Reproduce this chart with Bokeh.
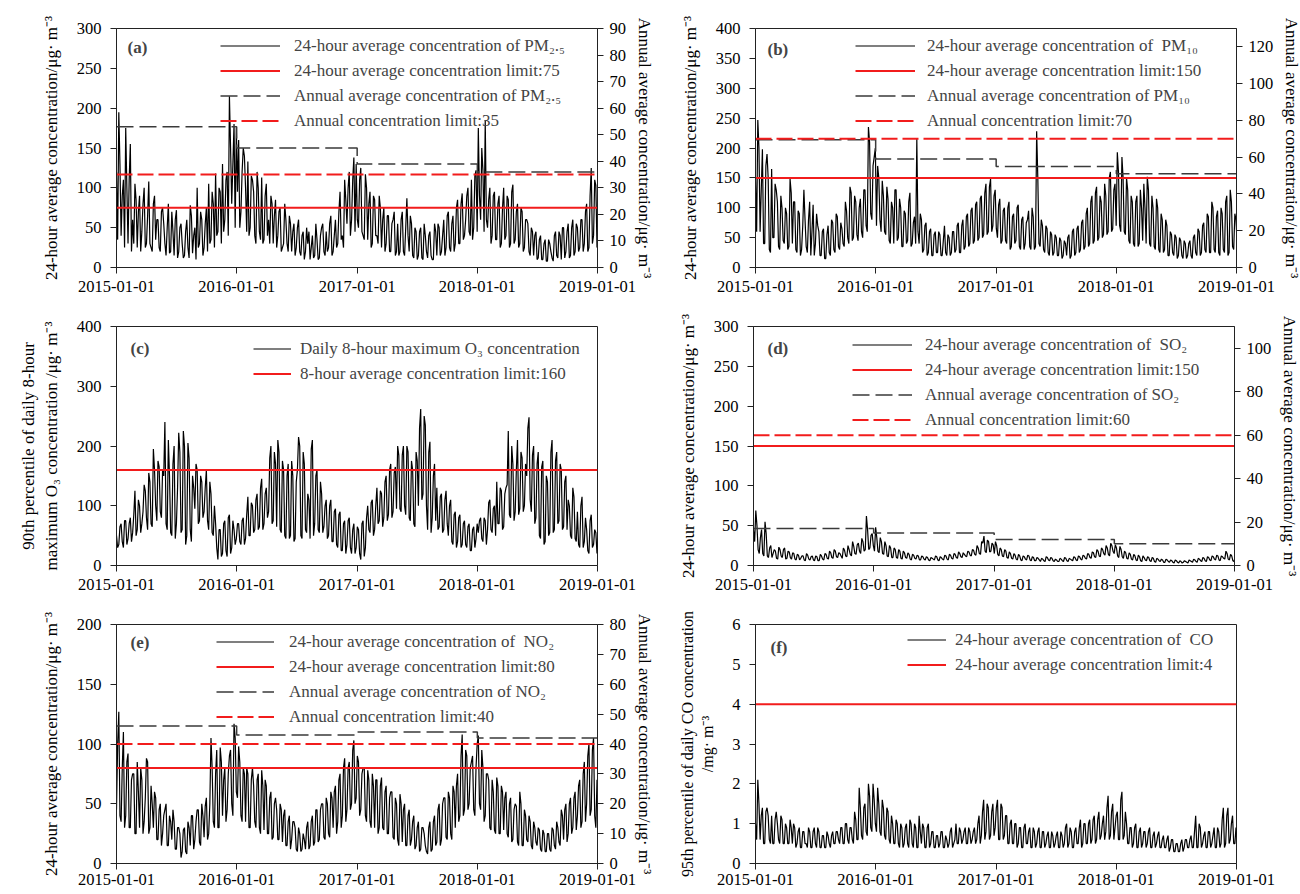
import pandas as pd
from datetime import datetime
from bokeh.plotting import figure
from bokeh.models import (Range1d, LinearAxis, FixedTicker, DatetimeTickFormatter,
                          Legend, LegendItem, Label, ColumnDataSource)
from bokeh.layouts import column, row
from bokeh.embed import file_html
from bokeh.resources import INLINE

FONT = "Liberation Serif"

# ---------------- data (readings estimated from the figure, twice a week) ----------------
dates = pd.date_range("2015-01-01", periods=210, freq="7D")
dates_mid = pd.date_range("2015-01-04 12:00", periods=210, freq="7D")
year_starts = [datetime(2015, 1, 1), datetime(2016, 1, 1), datetime(2017, 1, 1),
               datetime(2018, 1, 1), datetime(2019, 1, 1)]
x_tick_labels = ["2015-01-01", "2016-01-01", "2017-01-01", "2018-01-01", "2019-01-01"]

pm25 = [
    120, 195, 40, 110, 175, 30, 155, 60, 105, 25, 90, 45, 100, 30, 108, 25, 80, 35, 60, 20,
    75, 30, 50, 18, 70, 15, 72, 20, 55, 12, 45, 25, 78, 18, 50, 100, 30, 60, 25, 75,
    105, 35, 80, 118, 45, 95, 130, 60, 120, 215, 80, 180, 175,
    160, 70, 150, 100, 133, 50, 110, 40, 120, 45, 113, 35, 105, 60, 90, 30, 85, 40, 75, 25, 80,
    30, 65, 20, 55, 25, 60, 15, 45, 20, 30, 10, 40, 15, 35, 12, 50, 20, 45, 25, 65, 20, 60,
    30, 95, 40, 110, 55, 120, 60, 138, 130,
    50, 125, 40, 117, 35, 95, 30, 85, 40, 90, 25, 75, 30, 65, 20, 60, 15, 55, 20, 70, 15,
    87, 20, 55, 12, 45, 15, 50, 10, 40, 12, 45, 10, 55, 15, 50, 20, 60, 25, 70, 20, 65, 30,
    85, 30, 93, 40, 90, 45, 110, 50, 122,
    175, 60, 122, 185, 50, 100, 40, 95, 35, 90, 30, 100, 40, 85, 30, 104, 35, 80, 30, 70, 25,
    60, 20, 50, 15, 45, 12, 40, 10, 35, 8, 30, 12, 40, 15, 45, 10, 50, 20, 55, 15, 60, 20,
    50, 25, 60, 30, 80, 25, 125, 40, 103, 45,
]
pm25_mid = [
    35, 130, 90, 25, 100, 110, 20, 30, 85, 70, 20, 80, 25, 65, 30, 20, 90, 60, 25, 70, 55, 15,
    80, 20, 45, 60, 12, 50, 30, 15, 60, 12, 65, 40, 10, 25, 70, 15, 55, 20, 30, 95, 25, 40,
    100, 30, 45, 110, 40, 150, 130, 50, 95,
    50, 120, 140, 45, 40, 115, 95, 30, 100, 35, 30, 90, 40, 30, 80, 65, 25, 70, 20, 30, 60,
    20, 55, 45, 15, 50, 20, 40, 10, 50, 45, 25, 12, 55, 10, 40, 55, 15, 20, 55, 15, 40, 25,
    70, 35, 25, 85, 100, 40, 110, 45, 60,
    110, 45, 35, 100, 80, 25, 90, 40, 30, 75, 60, 20, 65, 20, 55, 70, 20, 15, 60, 20, 50,
    40, 65, 15, 50, 10, 45, 12, 55, 20, 40, 15, 10, 45, 55, 15, 40, 15, 65, 25, 55, 20, 75,
    30, 80, 35, 60, 100, 40, 35, 115, 45,
    90, 150, 45, 60, 85, 30, 90, 35, 80, 25, 75, 35, 90, 25, 95, 30, 70, 25, 75, 20, 60,
    55, 15, 45, 40, 10, 35, 10, 30, 8, 35, 20, 8, 45, 12, 40, 50, 12, 45, 12, 50, 15, 55,
    20, 60, 20, 70, 20, 90, 30, 110, 25, 60,
]
pm25_annual = [53, 45, 39, 36]

pm10 = [
    150, 247, 60, 198, 40, 190, 30, 165, 50, 130, 35, 120, 45, 100, 30, 148, 40, 110, 25, 90, 30,
    130, 35, 80, 20, 105, 40, 70, 20, 60, 15, 55, 25, 80, 30, 90, 35, 75, 40, 110, 50, 135, 45,
    120, 55, 100, 60, 130, 70, 235, 90, 170, 200,
    170, 80, 145, 60, 135, 45, 110, 40, 130, 50, 100, 35, 90, 45, 125, 40, 85, 215, 40, 80, 30,
    75, 25, 65, 20, 60, 25, 55, 20, 70, 20, 50, 25, 60, 30, 75, 25, 80, 35, 90, 40, 100, 45,
    110, 50, 120, 55, 140, 60, 148, 70, 130,
    50, 115, 45, 100, 40, 110, 35, 90, 45, 105, 30, 85, 40, 80, 35, 100, 30, 228, 40, 80, 30,
    70, 25, 60, 20, 55, 20, 50, 15, 45, 20, 55, 20, 65, 25, 70, 30, 80, 35, 100, 40, 120, 45,
    135, 50, 110, 55, 120, 60, 160, 65, 140,
    193, 70, 185, 60, 150, 45, 120, 40, 110, 35, 130, 45, 100, 152, 40, 120, 35, 115, 30, 90, 25,
    80, 20, 60, 25, 55, 15, 50, 20, 45, 15, 40, 20, 50, 25, 65, 20, 70, 30, 90, 25, 110, 30,
    85, 25, 100, 30, 110, 20, 130, 35, 90, 40,
]
pm10_mid = [
    60, 200, 130, 40, 170, 150, 25, 50, 140, 110, 30, 100, 40, 90, 35, 125, 110, 30, 95, 20, 70,
    80, 25, 110, 60, 20, 90, 60, 20, 65, 15, 70, 20, 75, 25, 85, 30, 65, 35, 95, 40, 125, 50,
    110, 45, 115, 50, 130, 60, 210, 80, 185, 70,
    150, 60, 120, 55, 115, 40, 100, 130, 45, 115, 35, 95, 40, 110, 35, 75, 40, 60, 90, 25, 70,
    20, 60, 20, 55, 25, 60, 20, 45, 25, 55, 20, 60, 25, 70, 25, 70, 30, 85, 35, 95, 40, 105,
    45, 115, 50, 125, 55, 135, 60, 120, 65,
    105, 40, 95, 45, 100, 30, 85, 40, 100, 35, 80, 30, 75, 95, 30, 85, 35, 150, 35, 70, 25,
    65, 20, 55, 25, 50, 20, 45, 20, 40, 50, 15, 60, 20, 65, 25, 75, 30, 90, 35, 110, 40, 125,
    45, 120, 50, 140, 55, 150, 60, 130, 70,
    160, 60, 150, 55, 130, 40, 110, 35, 120, 40, 100, 140, 40, 130, 35, 100, 30, 100, 25, 80, 30,
    70, 20, 55, 20, 50, 20, 45, 15, 40, 20, 45, 15, 55, 20, 60, 25, 75, 25, 85, 25, 100, 25,
    95, 20, 90, 25, 120, 25, 110, 30, 80, 35,
]
pm10_annual = [69.5, 59, 55, 51]

o3 = [
    50, 35, 70, 30, 75, 45, 80, 55, 125, 60, 100, 70, 135, 80, 155, 70, 195, 100, 175, 90, 160,
    240, 60, 150, 50, 200, 70, 222, 55, 225, 35, 205, 60, 150, 95, 160, 75, 140, 90, 160, 60, 120, 50,
    70, 10, 60, 20, 75, 15, 85, 30, 60, 45,
    70, 35, 80, 45, 115, 50, 100, 60, 120, 65, 145, 70, 130, 90, 200, 75, 170, 210, 60, 175, 50,
    150, 45, 175, 40, 140, 215, 50, 190, 60, 120, 45, 210, 70, 160, 55, 120, 65, 110, 50, 110, 40, 95,
    30, 90, 25, 75, 35, 80, 20, 70, 30,
    60, 10, 75, 30, 100, 55, 110, 60, 130, 75, 120, 80, 150, 85, 170, 90, 165, 200, 95, 185, 100,
    200, 80, 175, 70, 190, 100, 262, 120, 235, 60, 207, 80, 170, 130, 65, 120, 60, 125, 50, 110, 35, 90,
    40, 85, 35, 75, 30, 70, 25, 65, 45,
    55, 80, 40, 75, 60, 110, 55, 100, 140, 70, 125, 65, 130, 225, 80, 170, 90, 210, 95, 180, 100,
    150, 248, 90, 200, 80, 190, 45, 175, 40, 140, 55, 210, 60, 190, 75, 160, 65, 150, 110, 50, 130, 45,
    90, 30, 115, 40, 60, 20, 85, 35, 55, 45,
]
o3_mid = [
    30, 65, 40, 75, 35, 70, 40, 85, 50, 110, 55, 90, 125, 60, 140, 65, 160, 75, 165, 80, 150,
    70, 210, 55, 170, 45, 130, 190, 60, 200, 50, 180, 40, 130, 170, 70, 150, 80, 130, 75, 140, 55, 100,
    30, 60, 15, 70, 25, 80, 20, 75, 35, 70,
    40, 75, 35, 85, 50, 105, 55, 110, 60, 130, 60, 120, 80, 180, 70, 190, 65, 190, 55, 160, 45,
    170, 50, 150, 45, 160, 200, 45, 170, 55, 110, 195, 50, 150, 60, 140, 55, 100, 45, 100, 40, 90,
    35, 85, 25, 70, 20, 75, 30, 60, 20, 65,
    20, 70, 15, 80, 60, 105, 50, 100, 70, 125, 65, 140, 75, 160, 80, 155, 95, 185, 90, 200, 85,
    190, 75, 160, 65, 175, 230, 110, 250, 100, 190, 55, 150, 75, 60, 115, 55, 110, 70, 100, 40, 85,
    30, 80, 30, 70, 35, 65, 25, 60, 30, 70,
    75, 45, 80, 35, 105, 60, 95, 50, 70, 130, 60, 120, 135, 85, 200, 75, 160, 85, 190, 90, 170,
    230, 110, 185, 70, 170, 50, 165, 35, 150, 50, 190, 55, 175, 70, 170, 60, 140, 60, 100, 45, 115,
    40, 35, 100, 30, 80, 25, 75, 30, 60, 20, 50,
]

so2 = [
    45, 69, 20, 35, 15, 55, 12, 22, 10, 20, 9, 23, 12, 20, 8, 18, 10, 16, 8, 14, 7,
    12, 7, 15, 8, 11, 7, 12, 6, 14, 8, 15, 9, 18, 10, 20, 11, 16, 12, 22, 12, 25, 14,
    30, 15, 26, 18, 34, 18, 62, 20, 38, 25,
    48, 18, 35, 15, 30, 12, 25, 10, 22, 10, 20, 9, 18, 10, 16, 8, 14, 9, 13, 7, 12,
    8, 11, 7, 10, 8, 12, 7, 11, 8, 13, 8, 14, 9, 15, 10, 17, 11, 16, 12, 18, 13, 20,
    14, 25, 15, 30, 37, 16, 30, 18, 26,
    30, 14, 22, 12, 20, 10, 17, 9, 15, 8, 14, 7, 12, 8, 13, 7, 11, 6, 10, 7, 9,
    6, 11, 7, 10, 6, 8, 5, 9, 6, 10, 6, 9, 7, 11, 7, 12, 8, 13, 9, 15, 10, 17,
    11, 20, 12, 22, 15, 25, 14, 28, 18,
    26, 12, 24, 11, 18, 9, 16, 8, 14, 7, 13, 6, 12, 7, 11, 6, 10, 5, 9, 6, 8,
    4, 8, 5, 7, 4, 7, 4, 6, 3, 6, 4, 7, 5, 8, 5, 9, 6, 10, 6, 11, 7, 12,
    8, 13, 7, 12, 9, 18, 8, 14, 6, 10,
]
so2_mid = [
    30, 50, 15, 45, 12, 40, 10, 25, 15, 18, 8, 20, 10, 22, 9, 17, 8, 15, 7, 13, 9,
    12, 6, 13, 7, 12, 6, 11, 6, 12, 7, 14, 8, 16, 9, 18, 10, 15, 9, 19, 11, 20, 12,
    24, 14, 28, 15, 30, 20, 45, 22, 40, 18,
    35, 16, 30, 14, 25, 11, 22, 10, 20, 9, 18, 8, 16, 9, 14, 7, 13, 8, 12, 7, 11,
    7, 10, 6, 9, 7, 11, 6, 10, 7, 12, 7, 13, 8, 14, 9, 15, 10, 14, 11, 17, 12, 19,
    13, 22, 14, 28, 18, 32, 17, 28, 15,
    25, 12, 20, 11, 18, 9, 15, 8, 13, 7, 12, 6, 11, 7, 12, 6, 10, 6, 9, 5, 8,
    5, 10, 6, 9, 5, 7, 5, 8, 5, 9, 5, 8, 6, 10, 6, 11, 7, 12, 8, 14, 9, 16,
    10, 18, 11, 20, 13, 22, 12, 25, 15,
    22, 10, 20, 9, 16, 8, 14, 7, 12, 6, 11, 5, 10, 6, 10, 5, 9, 4, 8, 5, 7,
    4, 7, 4, 6, 3, 6, 3, 5, 4, 5, 3, 6, 4, 7, 4, 8, 5, 9, 5, 10, 6, 11,
    7, 12, 6, 11, 8, 15, 7, 12, 5, 9,
]
so2_annual = [17, 15, 12, 10]

no2 = [
    45, 127, 35, 110, 40, 92, 30, 75, 25, 85, 30, 70, 35, 88, 25, 65, 30, 55, 20, 50, 25,
    45, 15, 40, 20, 35, 12, 30, 5, 28, 10, 35, 15, 40, 20, 45, 18, 50, 22, 55, 25, 105, 35,
    75, 30, 97, 40, 80, 45, 90, 50, 117, 60,
    98, 40, 80, 35, 75, 30, 80, 35, 70, 30, 78, 28, 65, 25, 60, 22, 55, 20, 50, 18, 45,
    15, 40, 20, 35, 12, 30, 10, 25, 12, 35, 15, 40, 18, 45, 20, 50, 22, 55, 25, 60, 30, 65,
    35, 75, 40, 88, 45, 85, 50, 103, 55,
    85, 45, 80, 40, 78, 35, 75, 30, 70, 30, 72, 28, 65, 25, 60, 22, 55, 20, 58, 18, 50,
    15, 45, 20, 40, 15, 35, 12, 30, 15, 8, 35, 12, 40, 18, 50, 20, 55, 22, 60, 25, 65, 30,
    75, 40, 108, 45, 90, 50, 85, 45, 80,
    107, 45, 80, 40, 75, 30, 70, 28, 72, 25, 65, 28, 60, 22, 55, 20, 50, 18, 60, 15, 45,
    20, 40, 15, 35, 18, 30, 12, 28, 10, 25, 12, 30, 15, 35, 18, 45, 20, 50, 25, 55, 30, 60,
    40, 70, 35, 85, 50, 100, 45, 105, 30, 60,
]
no2_mid = [
    100, 40, 80, 30, 85, 30, 70, 75, 25, 60, 80, 25, 55, 85, 30, 50, 60, 20, 45, 15, 40,
    50, 15, 35, 45, 12, 30, 25, 10, 30, 8, 30, 40, 12, 35, 45, 15, 40, 48, 20, 50, 80, 30,
    95, 30, 85, 70, 35, 75, 95, 40, 105, 55,
    85, 35, 75, 80, 30, 70, 65, 30, 75, 25, 65, 70, 25, 55, 20, 50, 45, 20, 45, 40, 15,
    35, 12, 35, 30, 10, 25, 12, 20, 30, 12, 35, 15, 45, 18, 45, 50, 20, 50, 22, 55, 60, 25,
    70, 30, 80, 35, 80, 45, 95, 50, 90,
    40, 75, 80, 35, 70, 30, 65, 70, 25, 65, 30, 60, 25, 55, 60, 20, 50, 15, 50, 45, 15,
    40, 15, 35, 12, 30, 10, 30, 25, 10, 30, 10, 35, 15, 45, 15, 50, 55, 20, 55, 20, 60, 65,
    35, 90, 40, 95, 45, 80, 90, 40, 100,
    50, 95, 35, 75, 70, 28, 60, 25, 65, 25, 60, 55, 25, 50, 18, 45, 48, 15, 50, 15, 40,
    18, 35, 12, 30, 15, 28, 10, 25, 10, 25, 10, 28, 12, 30, 15, 40, 45, 18, 50, 25, 55, 28,
    65, 30, 75, 35, 90, 40, 95, 40, 70, 25,
]
no2_annual = [46, 43, 44, 42]

co = [
    1.0, 2.1, 0.6, 1.4, 0.5, 1.4, 0.6, 1.2, 0.5, 1.3, 0.6, 1.2, 0.5, 1.0, 0.5, 1.1, 0.5, 0.9, 0.5, 0.9, 0.4,
    0.8, 0.5, 0.9, 0.4, 0.8, 0.5, 0.9, 0.4, 0.7, 0.4, 0.8, 0.5, 0.7, 0.5, 0.8, 0.6, 0.9, 0.5, 1.0, 0.6, 0.9, 0.6,
    1.3, 0.6, 1.9, 0.7, 1.4, 0.8, 2.0, 0.9, 2.0, 1.0,
    1.9, 0.8, 1.6, 0.7, 1.4, 0.6, 1.2, 0.5, 1.1, 0.5, 1.0, 0.4, 0.9, 0.5, 1.1, 0.5, 1.0, 0.4, 1.2, 0.5, 0.9,
    0.4, 1.0, 0.5, 0.8, 0.4, 0.7, 0.5, 0.8, 0.4, 0.6, 0.5, 0.9, 0.5, 1.0, 0.5, 0.8, 0.6, 0.9, 0.5, 0.8, 0.6, 0.9,
    0.6, 1.2, 0.7, 1.6, 0.8, 1.4, 0.7, 1.5, 0.9,
    1.6, 0.6, 1.4, 0.7, 1.2, 0.5, 1.1, 0.5, 1.0, 0.5, 0.9, 0.4, 1.0, 0.5, 0.9, 0.4, 0.8, 0.5, 0.9, 0.4, 0.8,
    0.5, 0.8, 0.4, 0.7, 0.5, 0.8, 0.4, 0.7, 0.5, 1.0, 0.5, 0.8, 0.4, 0.9, 0.5, 1.1, 0.5, 1.0, 0.5, 1.1, 0.6, 1.2,
    0.6, 1.3, 0.7, 1.2, 0.8, 1.7, 0.7, 1.5, 0.9,
    1.3, 0.6, 1.8, 0.7, 1.0, 0.5, 0.9, 0.5, 1.0, 0.4, 0.9, 0.5, 0.8, 0.5, 0.9, 0.4, 0.8, 0.5, 0.8, 0.4, 0.7,
    0.4, 0.7, 0.4, 0.6, 0.3, 0.5, 0.3, 0.6, 0.4, 0.6, 0.4, 0.7, 0.4, 1.2, 0.4, 0.9, 0.5, 0.8, 0.4, 0.8, 0.5, 0.9,
    0.4, 0.8, 0.5, 1.4, 0.5, 1.4, 0.6, 1.2, 0.5, 0.7,
]
co_mid = [
    0.6, 1.5, 1.2, 0.5, 1.3, 1.2, 0.5, 0.5, 1.1, 1.0, 0.5, 1.1, 0.5, 0.9, 0.5, 0.9, 1.0, 0.4, 0.8, 0.4, 0.8,
    0.5, 0.4, 0.8, 0.4, 0.9, 0.4, 0.8, 0.4, 0.7, 0.4, 0.7, 0.4, 0.8, 0.5, 0.8, 0.5, 0.9, 0.5, 1.0, 0.5, 0.9, 0.5,
    1.1, 0.6, 1.4, 0.6, 1.5, 0.7, 1.7, 0.8, 1.6, 0.8,
    1.5, 0.7, 1.4, 0.6, 1.3, 0.5, 1.0, 0.5, 1.0, 0.4, 0.9, 0.5, 1.0, 0.4, 1.0, 0.4, 0.9, 0.4, 0.8, 1.0, 0.4,
    0.9, 0.4, 0.8, 0.4, 0.7, 0.4, 0.8, 0.4, 0.7, 0.4, 0.8, 0.4, 0.6, 0.5, 0.9, 0.5, 0.8, 0.5, 0.9, 0.5, 0.8,
    0.5, 1.0, 0.5, 1.3, 0.6, 1.5, 0.6, 1.3, 0.7, 1.4,
    0.6, 1.5, 0.6, 1.2, 0.5, 1.0, 0.5, 1.0, 0.4, 0.9, 0.4, 0.9, 0.5, 0.8, 0.4, 0.9, 0.4, 0.8, 0.4, 0.8, 0.4,
    0.7, 0.4, 0.8, 0.4, 0.7, 0.4, 0.8, 0.4, 0.9, 0.4, 0.9, 0.4, 0.8, 0.5, 0.9, 0.4, 1.0, 0.5, 1.0, 0.5, 1.1,
    0.5, 1.1, 0.6, 1.0, 0.6, 1.4, 0.6, 1.3, 0.6, 1.2,
    0.6, 1.6, 0.6, 1.3, 0.5, 0.9, 0.4, 0.9, 0.4, 0.8, 0.4, 0.8, 0.4, 0.8, 0.4, 0.7, 0.4, 0.7, 0.4, 0.6, 0.4,
    0.6, 0.3, 0.6, 0.3, 0.5, 0.3, 0.5, 0.3, 0.6, 0.4, 0.6, 0.4, 0.8, 0.4, 1.0, 0.4, 0.7, 0.4, 0.8, 0.4, 0.7,
    0.4, 0.9, 0.4, 1.1, 0.4, 1.2, 0.5, 1.0, 0.5, 0.9, 0.4,
]

for name, s in [("pm25", pm25), ("pm10", pm10), ("o3", o3), ("so2", so2), ("no2", no2), ("co", co),
                ("pm25_mid", pm25_mid), ("pm10_mid", pm10_mid), ("o3_mid", o3_mid),
                ("so2_mid", so2_mid), ("no2_mid", no2_mid), ("co_mid", co_mid)]:
    assert len(s) == len(dates), (name, len(s))

# ---------------- layout constants ----------------
FRAME_W, FRAME_H = 481, 239
BORDERS = {0: (116, 58), 1: (98, 63)}          # (left, right) per column
TOPS = [28, 19, 19]
BOTTOMS = [40, 40, 30]
X_STANDOFF = [7, 7, 4]

RED = "#f21c1c"
DASH_BLACK = "#3a3a3a"


def style_axis(ax, label_standoff, title_standoff, tick_size="16.5px"):
    ax.major_label_text_font = FONT
    ax.major_label_text_font_size = tick_size
    ax.major_label_text_color = "black"
    ax.axis_label_text_font = FONT
    ax.axis_label_text_font_size = "17px"
    ax.axis_label_text_font_style = "normal"
    ax.axis_label_text_color = "black"
    ax.major_tick_out = 6
    ax.major_tick_in = 0
    ax.minor_tick_line_color = None
    ax.axis_line_color = "#222222"
    ax.major_tick_line_color = "#222222"
    ax.major_label_standoff = label_standoff
    ax.axis_label_standoff = title_standoff


def make_panel(tag, col, rowi, series, series_mid, y_end, y_ticks, y_title, lim24, labels,
               legend_loc, glyph_w, standoff, tag_pos,
               annual=None, annual_lim=None, r_end=None, r_ticks=None, r_title=None,
               y_title_size="17px"):
    left_b, right_b = BORDERS[col]
    p = figure(frame_width=FRAME_W, frame_height=FRAME_H,
               x_axis_type="datetime",
               x_range=Range1d(year_starts[0], year_starts[-1]),
               y_range=Range1d(0, y_end),
               min_border_left=left_b, min_border_right=right_b,
               min_border_top=TOPS[rowi], min_border_bottom=BOTTOMS[rowi],
               output_backend="svg", toolbar_location=None)
    p.xgrid.grid_line_color = None
    p.ygrid.grid_line_color = None
    p.outline_line_color = "#222222"
    p.outline_line_width = 1
    p.outline_line_alpha = 1
    p.background_fill_color = "white"
    p.border_fill_color = "white"

    xa = p.xaxis[0]
    xa.ticker = FixedTicker(ticks=[pd.Timestamp(d).value / 1e6 for d in year_starts])
    fmt = "%Y-%m-%d"
    xa.formatter = DatetimeTickFormatter(microseconds=fmt, milliseconds=fmt, seconds=fmt,
                                         minsec=fmt, minutes=fmt, hourmin=fmt, hours=fmt,
                                         days=fmt, months=fmt, years=fmt)
    style_axis(xa, X_STANDOFF[rowi], 5)

    ya = p.yaxis[0]
    ya.ticker = FixedTicker(ticks=y_ticks)
    ya.axis_label = y_title
    style_axis(ya, 9, 13)
    ya.axis_label_text_font_size = y_title_size

    df = pd.concat([pd.DataFrame(dict(date=dates, val=series)),
                    pd.DataFrame(dict(date=dates_mid, val=series_mid))]).sort_values("date")
    src = ColumnDataSource(dict(date=df["date"].values, val=df["val"].values))
    r_data = p.line("date", "val", source=src, line_color="black", line_width=1.2)
    r_lim = p.line([year_starts[0], year_starts[-1]], [lim24, lim24],
                   line_color=RED, line_width=2)
    items = [LegendItem(label=labels[0], renderers=[r_data]),
             LegendItem(label=labels[1], renderers=[r_lim])]

    if annual is not None:
        p.extra_y_ranges = {"right": Range1d(0, r_end)}
        ra = LinearAxis(y_range_name="right", axis_label=r_title,
                        ticker=FixedTicker(ticks=r_ticks))
        style_axis(ra, 6, 6)
        p.add_layout(ra, "right")
        r_ann = p.step(year_starts, annual + [annual[-1]], mode="after",
                       y_range_name="right", line_color=DASH_BLACK,
                       line_width=1.5, line_dash="17 6")
        r_alim = p.line([year_starts[0], year_starts[-1]], [annual_lim, annual_lim],
                        y_range_name="right", line_color=RED, line_width=2,
                        line_dash="16 5")
        items += [LegendItem(label=labels[2], renderers=[r_ann]),
                  LegendItem(label=labels[3], renderers=[r_alim])]

    leg = Legend(items=items, location=legend_loc, padding=0, spacing=0, margin=0,
                 glyph_width=glyph_w, glyph_height=25, label_height=25,
                 label_standoff=standoff, label_text_font=FONT,
                 label_text_font_size="17px", border_line_alpha=0,
                 background_fill_alpha=0)
    p.add_layout(leg)

    p.add_layout(Label(x=tag_pos[0], y=tag_pos[1], x_units="screen", y_units="screen",
                       text=tag, text_font=FONT, text_font_size="17px",
                       text_font_style="bold", text_baseline="middle"))
    return p


conc_title = "24-hour average concentration/μg· m⁻³"
annual_title = "Annual average concentration/μg· m⁻³"

pa = make_panel("(a)", 0, 0, pm25, pm25_mid, 300, [0, 50, 100, 150, 200, 250, 300], conc_title, 75,
                ["24-hour average concentration of PM₂.₅",
                 "24-hour average concentration limit:75",
                 "Annual average concentration of PM₂.₅",
                 "Annual concentration limit:35"],
                (104, 134), 60, 14, (11, 220),
                annual=pm25_annual, annual_lim=35, r_end=90,
                r_ticks=[0, 10, 20, 30, 40, 50, 60, 70, 80, 90], r_title=annual_title)

pb = make_panel("(b)", 1, 0, pm10, pm10_mid, 400, [0, 50, 100, 150, 200, 250, 300, 350, 400],
                conc_title, 150,
                ["24-hour average concentration of  PM₁₀",
                 "24-hour average concentration limit:150",
                 "Annual average concentration of PM₁₀",
                 "Annual concentration limit:70"],
                (100, 134), 60, 12, (12, 218),
                annual=pm10_annual, annual_lim=70, r_end=130,
                r_ticks=[0, 20, 40, 60, 80, 100, 120], r_title=annual_title)

pc = make_panel("(c)", 0, 1, o3, o3_mid, 400, [0, 100, 200, 300, 400],
                "90th percentile of daily 8-hour\nmaximum O₃ concentration /μg· m⁻³", 160,
                ["Daily 8-hour maximum O₃ concentration",
                 "8-hour average concentration limit:160"],
                (137, 179), 38, 9, (14, 217))

pd_ = make_panel("(d)", 1, 1, so2, so2_mid, 300, [0, 50, 100, 150, 200, 250, 300], conc_title, 150,
                 ["24-hour average concentration of  SO₂",
                  "24-hour average concentration limit:150",
                  "Annual average concentration of SO₂",
                  "Annual concentration limit:60"],
                 (99, 133), 60, 13, (14, 217),
                 annual=so2_annual, annual_lim=60, r_end=110,
                 r_ticks=[0, 20, 40, 60, 80, 100], r_title=annual_title)

pe = make_panel("(e)", 0, 2, no2, no2_mid, 200, [0, 50, 100, 150, 200], conc_title, 80,
                ["24-hour average concentration of  NO₂",
                 "24-hour average concentration limit:80",
                 "Annual average concentration of NO₂",
                 "Annual concentration limit:40"],
                (100, 134), 58, 15, (14, 221),
                annual=no2_annual, annual_lim=40, r_end=80,
                r_ticks=[0, 10, 20, 30, 40, 50, 60, 70, 80], r_title=annual_title)

pf = make_panel("(f)", 1, 2, co, co_mid, 6, [0, 1, 2, 3, 4, 5, 6],
                "95th percentile of daily CO concentration\n/mg· m⁻³", 4,
                ["24-hour average concentration of  CO",
                 "24-hour average concentration limit:4"],
                (152, 186), 39, 9, (15, 216), y_title_size="16px")

layout = column(row(pa, pb), row(pc, pd_), row(pe, pf))

with open("out.html", "w") as f:
    f.write(file_html(layout, INLINE))
